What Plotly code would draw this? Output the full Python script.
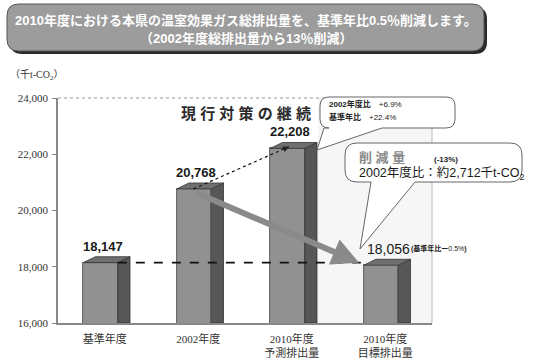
import plotly.graph_objects as go

# ---- data ----
categories = ["基準年度", "2002年度", "2010年度<br>予測排出量", "2010年度<br>目標排出量"]
values = [18147, 20768, 22208, 18056]
value_labels = ["18,147", "20,768", "22,208", "18,056"]
y_ticks = [16000, 18000, 20000, 22000, 24000]
y_tick_labels = ["16,000", "18,000", "20,000", "22,000", "24,000"]

# ---- geometry ----
W, H = 540, 360
L, R, T, B = 58, 432, 98, 323
PW, PH = R - L, B - T
FL, FR, SR = -0.23, 0.14, 0.27   # front-left, front-right, side-right offsets
DY = 210                         # depth of 3D top in data units
YMIN, YMAX = 16000, 24000

def px(x):
    return (x - L) / PW

def py(y):
    return (B - y) / PH

def rrect(x0, y0, x1, y1, r):
    return (f"M {px(x0+r)} {py(y0)} L {px(x1-r)} {py(y0)} Q {px(x1)} {py(y0)} {px(x1)} {py(y0+r)} "
            f"L {px(x1)} {py(y1-r)} Q {px(x1)} {py(y1)} {px(x1-r)} {py(y1)} "
            f"L {px(x0+r)} {py(y1)} Q {px(x0)} {py(y1)} {px(x0)} {py(y1-r)} "
            f"L {px(x0)} {py(y0+r)} Q {px(x0)} {py(y0)} {px(x0+r)} {py(y0)} Z")

def callout(x0, y0, x1, y1, r, ta, tip, tb):
    return (f"M {px(x0+r)} {py(y0)} L {px(x1-r)} {py(y0)} Q {px(x1)} {py(y0)} {px(x1)} {py(y0+r)} "
            f"L {px(x1)} {py(y1-r)} Q {px(x1)} {py(y1)} {px(x1-r)} {py(y1)} "
            f"L {px(tb)} {py(y1)} L {px(tip[0])} {py(tip[1])} L {px(ta)} {py(y1)} "
            f"L {px(x0+r)} {py(y1)} Q {px(x0)} {py(y1)} {px(x0)} {py(y1-r)} "
            f"L {px(x0)} {py(y0+r)} Q {px(x0)} {py(y0)} {px(x0+r)} {py(y0)} Z")

fig = go.Figure()

SERIF = "Liberation Serif, Noto Sans CJK JP, serif"
SANS = "Liberation Sans, Noto Sans CJK JP, sans-serif"

xs = list(range(len(values)))

# front faces
fig.add_trace(go.Bar(
    x=[i + (FL + FR) / 2 for i in xs], y=values, width=FR - FL,
    marker=dict(color="#919191", line=dict(color="#444", width=0.8)),
    hoverinfo="skip", showlegend=False))

# side and top faces
for i, v in zip(xs, values):
    fig.add_trace(go.Scatter(
        x=[i + FR, i + FR, i + SR, i + SR, i + FR],
        y=[YMIN, v, v + DY, YMIN, YMIN],
        mode="lines", fill="toself", fillcolor="#575757",
        line=dict(color="#333", width=0.8), hoverinfo="skip", showlegend=False))
    fig.add_trace(go.Scatter(
        x=[i + FL, i + FR, i + SR, i + FL + (SR - FR), i + FL],
        y=[v, v, v + DY, v + DY, v],
        mode="lines", fill="toself", fillcolor="#6f6f6f",
        line=dict(color="#333", width=0.8), hoverinfo="skip", showlegend=False))

# dashed baseline level from base year to target
fig.add_trace(go.Scatter(
    x=[xs[0] + FR, xs[3] + FL - 0.02], y=[values[0], values[0]],
    mode="lines", line=dict(color="#111", width=1.6, dash="dash"),
    hoverinfo="skip", showlegend=False))

# dotted line 2002 -> 2010 forecast
start = (xs[1] - 0.05, values[1] + 0)
end = (xs[2] - 0.03, values[2] + 60)
fig.add_trace(go.Scatter(
    x=[start[0], end[0]], y=[start[1], end[1]],
    mode="lines", line=dict(color="#111", width=1.2, dash="dot"),
    hoverinfo="skip", showlegend=False))

annotations = []
annotations.append(dict(x=end[0], y=end[1], ax=end[0] - 0.08, ay=end[1] - 120,
                        xref="x", yref="y", axref="x", ayref="y", text="",
                        showarrow=True, arrowhead=2, arrowsize=1.2, arrowwidth=1,
                        arrowcolor="#222"))
annotations.append(dict(x=xs[3] + FL - 0.05, y=values[3] + 90,
                        ax=xs[1] - 0.05, ay=values[1] - 100,
                        xref="x", yref="y", axref="x", ayref="y", text="",
                        showarrow=True, arrowhead=2, arrowsize=0.9, arrowwidth=6,
                        arrowcolor="#8a8a8a", standoff=0))

def note(xp, yp, text, size, color="#1a1a1a", family=SANS, xanchor="center"):
    annotations.append(dict(x=px(xp), y=py(yp), xref="paper", yref="paper",
                            xanchor=xanchor, yanchor="middle", text=text, showarrow=False,
                            font=dict(family=family, size=size, color=color)))

# value labels
for i, v, lab in zip(xs[:3], values[:3], value_labels[:3]):
    annotations.append(dict(x=i - 0.02, y=v + DY, text=f"<b>{lab}</b>", xref="x", yref="y",
                            xanchor="center", yanchor="bottom", yshift=1, showarrow=False,
                            font=dict(family=SANS, size=13, color="#1a1a1a")))
annotations.append(dict(x=xs[3] + 0.03, y=values[3] + DY, text=value_labels[3], xref="x", yref="y",
                        xanchor="center", yanchor="bottom", yshift=0, showarrow=False,
                        font=dict(family=SANS, size=14, color="#1a1a1a")))
note(409, 248, "<b>(基準年比ー</b>0.5%<b>)</b>", 7, "#222", xanchor="left")

# chart inner title
note(246, 113, "<b>現 行 対 策 の 継 続</b>", 15, "#2a2a2a")

# y axis unit
note(8, 75, "（千t-CO<sub>2</sub>）", 10, "#333", SERIF, "left")

# callout 1 text
note(327, 104, "<b>2002年度比</b>　+6.9%", 8, "#222", xanchor="left")
note(327, 117, "<b>基準年比</b>　+22.4%", 8, "#222", xanchor="left")

# callout 2 text
note(357, 157, "<b>削 減 量</b>", 13, "#8a8a8a", xanchor="left")
note(432, 159, "<b>(-13%)</b>", 8, "#222", xanchor="left")
note(357, 173, "2002年度比：約2,712千t-CO<sub>2</sub>", 12.5, "#1a1a1a", xanchor="left")

# top title text
note(246, 20, "<b>2010年度における本県の温室効果ガス総排出量を、基準年比0.5％削減します。</b>", 13, "white")
note(246, 38, "<b>（2002年度総排出量から13％削減）</b>", 13, "white")

shapes = []
shapes.append(dict(type="rect", xref="x", yref="y", x0=2.28, x1=3.5, y0=YMIN, y1=YMAX,
                   fillcolor="#f6f6f6", line=dict(width=0), layer="below"))
shapes.append(dict(type="line", xref="paper", yref="paper", x0=0, x1=1, y0=1, y1=1,
                   line=dict(color="#999", width=1, dash="dot")))
shapes.append(dict(type="line", xref="paper", yref="paper", x0=1, x1=1, y0=0, y1=py(128),
                   line=dict(color="#bbb", width=1)))
shapes.append(dict(type="path", xref="paper", yref="paper", path=rrect(10, 7, 487, 54, 12),
                   fillcolor="#2a2a2a", line=dict(width=0)))
shapes.append(dict(type="path", xref="paper", yref="paper", path=rrect(7, 4, 484, 51, 12),
                   fillcolor="#9c9c9c", line=dict(color="#555", width=1)))
shapes.append(dict(type="path", xref="paper", yref="paper",
                   path=callout(320, 97, 455, 128, 9, 324, (317, 150), 382),
                   fillcolor="white", line=dict(color="#666", width=1)))
shapes.append(dict(type="path", xref="paper", yref="paper",
                   path=callout(345, 143, 522, 182, 12, 371, (360, 249), 415),
                   fillcolor="white", line=dict(color="#666", width=1)))

fig.update_layout(
    width=W, height=H,
    margin=dict(l=L, r=W - R, t=T, b=H - B, pad=0, autoexpand=False),
    paper_bgcolor="white", plot_bgcolor="white",
    bargap=0, showlegend=False,
    annotations=annotations, shapes=shapes,
    xaxis=dict(range=[-0.5, 3.5], tickvals=xs, ticktext=categories,
               showline=True, linecolor="#888", linewidth=1.5, showgrid=False,
               ticks="", zeroline=False, fixedrange=True, automargin=False,
               ticklabelstandoff=5,
               tickfont=dict(family=SERIF, size=11, color="#333")),
    yaxis=dict(range=[YMIN, YMAX], tickvals=y_ticks, ticktext=y_tick_labels,
               showline=True, linecolor="#888", linewidth=1.5, showgrid=False,
               ticks="outside", ticklen=4, tickcolor="#888", zeroline=False,
               fixedrange=True, automargin=False, ticklabelstandoff=2,
               tickfont=dict(family=SERIF, size=11, color="#333")),
)

fig.write_html("out.html", config={"displayModeBar": False},
               post_script="document.body.style.margin='0';document.body.style.overflow='hidden';")
